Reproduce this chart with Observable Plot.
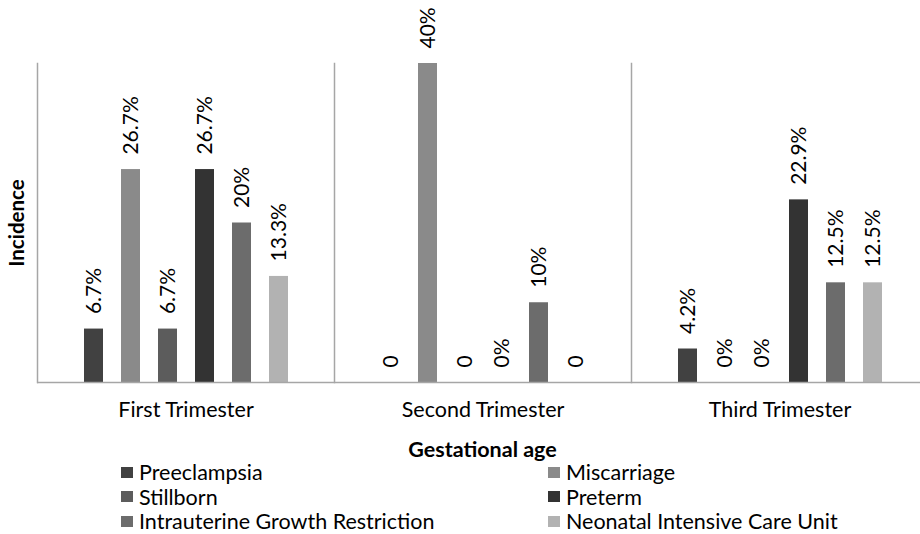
<!DOCTYPE html>
<html><head><meta charset="utf-8">
<script src="https://cdn.jsdelivr.net/npm/d3@7"></script>
<script src="https://cdn.jsdelivr.net/npm/@observablehq/plot@0.6"></script>
<style>
body{margin:0;background:#fff;font-family:Lato, "Liberation Sans", sans-serif;color:#000;}
#wrap{width:920px;height:534px;overflow:hidden;position:relative;}
#chart{position:absolute;left:0;top:0;width:929px;}
#chart svg{max-width:none !important;}
#title{position:absolute;left:36px;width:893px;top:436px;text-align:center;font-weight:bold;font-size:21.5px;line-height:26px;}
#legend{position:absolute;top:460px;left:121px;display:grid;grid-template-columns:427px auto;grid-auto-rows:24.5px;font-size:21.5px;}
.item{display:flex;align-items:center;white-space:nowrap;}
.sw{width:12px;height:11px;margin-right:6px;flex:none;}
</style></head>
<body><div id="wrap"><div id="chart"></div><div id="title">Gestational age</div><div id="legend"></div></div>
<script>
const groups = ["First Trimester", "Second Trimester", "Third Trimester"];
const outcomes = ["Preeclampsia", "Miscarriage", "Stillborn", "Preterm", "Intrauterine Growth Restriction", "Neonatal Intensive Care Unit"];
const firstValues = [6.7, 26.7, 6.7, 26.7, 20, 13.3];
const secondValues = [0, 40, 0, 0, 10, 0];
const thirdValues = [4.2, 0, 0, 22.9, 12.5, 12.5];
const firstLabels = ["6.7%", "26.7%", "6.7%", "26.7%", "20%", "13.3%"];
const secondLabels = ["0", "40%", "0", "0%", "10%", "0"];
const thirdLabels = ["4.2%", "0%", "0%", "22.9%", "12.5%", "12.5%"];
const colors = ["#414141", "#8a8a8a", "#5c5c5c", "#333333", "#6c6c6c", "#b2b2b2"];

const values = [firstValues, secondValues, thirdValues];
const labels = [firstLabels, secondLabels, thirdLabels];
const data = [];
groups.forEach((g, gi) => outcomes.forEach((o, i) => data.push({group: g, outcome: o, value: values[gi][i], label: labels[gi][i]})));

const chart = Plot.plot({
  width: 929, height: 432,
  marginLeft: 36, marginRight: 0, marginTop: 63, marginBottom: 50,
  style: {fontFamily: "Lato", fontSize: "20px", color: "#000", background: "#fff", maxWidth: "none"},
  fx: {domain: groups, padding: 0, label: null},
  x: {domain: outcomes, paddingInner: 0.5, paddingOuter: 1.18, axis: null},
  y: {domain: [0, 40], label: "Incidence", labelArrow: "none"},
  color: {domain: outcomes, range: colors},
  marks: [
    Plot.frame({anchor: "left", stroke: "#a6a6a6", strokeWidth: 1.5}),
    Plot.barY(data, {fx: "group", x: "outcome", y: "value", fill: "outcome"}),
    Plot.ruleY([0], {stroke: "#a6a6a6", strokeWidth: 1.5}),
    Plot.text(data, {fx: "group", x: "outcome", y: "value", text: "label", rotate: -90, textAnchor: "start", lineAnchor: "middle", dy: -15, fontSize: 21, fill: "#000"}),
    Plot.axisFx({anchor: "bottom", tickSize: 0, tickPadding: 19, label: null, fontSize: 21.5}),
    Plot.axisY({ticks: [], label: "Incidence", labelArrow: "none", labelAnchor: "center", labelOffset: 28, fontWeight: "bold", fontSize: 20.5})
  ]
});
document.getElementById("chart").appendChild(chart);

const legend = document.getElementById("legend");
outcomes.forEach((o, i) => {
  const item = document.createElement("div");
  item.className = "item";
  const sw = document.createElement("span");
  sw.className = "sw";
  sw.style.background = colors[i];
  const t = document.createElement("span");
  t.textContent = o;
  item.appendChild(sw);
  item.appendChild(t);
  legend.appendChild(item);
});
</script>
</body></html>
